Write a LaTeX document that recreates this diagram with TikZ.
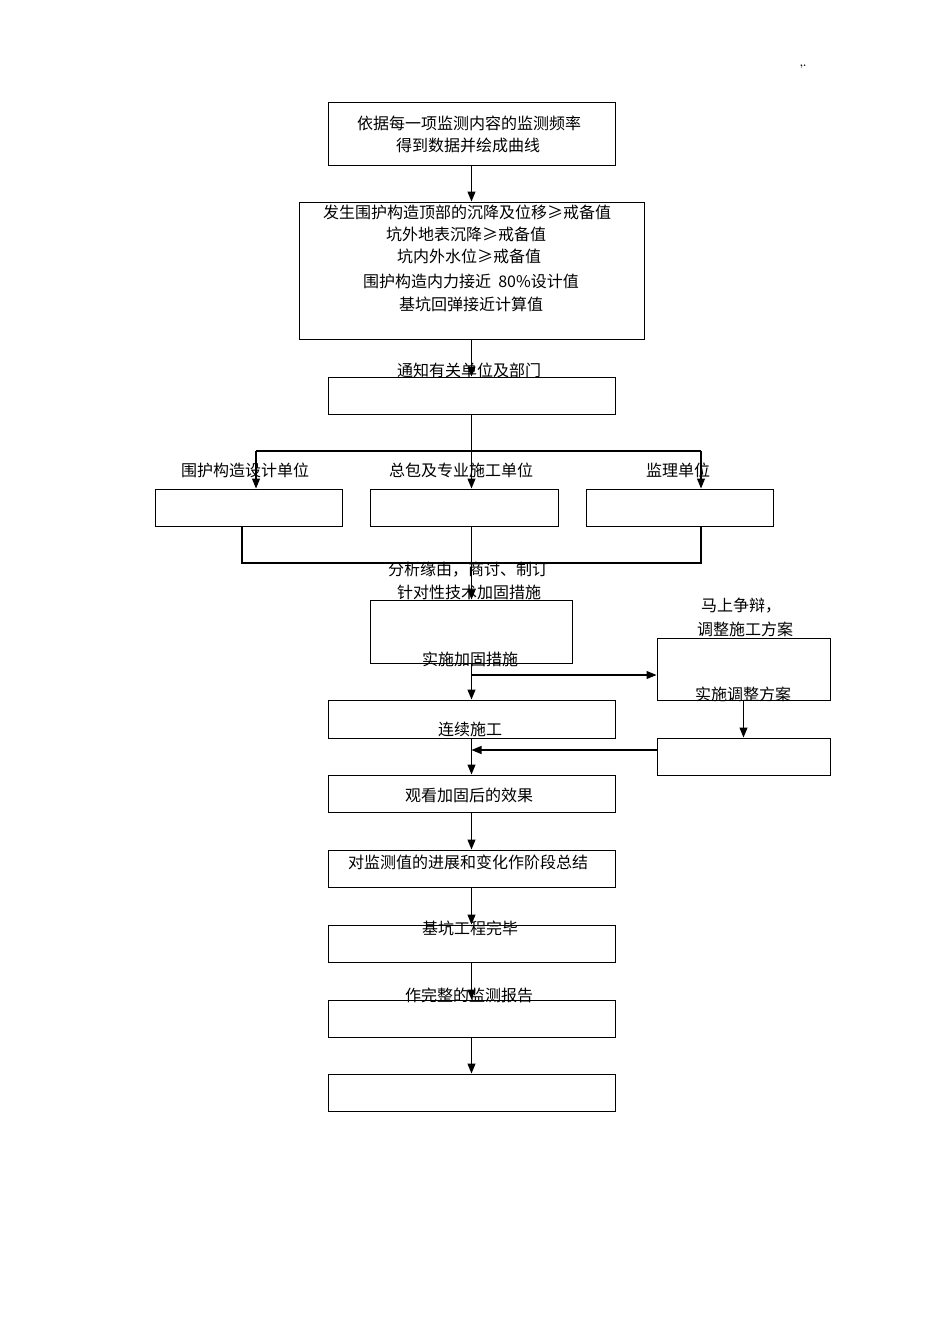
\documentclass[tikz,border=0pt]{standalone}
\usepackage{fontspec}
\newfontfamily\cjk{Noto Sans CJK SC}
\usetikzlibrary{arrows.meta}

\tikzset{
  box/.style={draw, line width=1pt, inner sep=0pt},
  lbl/.style={font=\cjk\fontsize{16}{19}\selectfont, inner sep=0pt},
  arr/.style={-{Triangle[length=10pt,width=8pt]}, line width=1.1pt},
  conn/.style={line width=1.1pt}
}

\begin{document}
\begin{tikzpicture}[x=1pt,y=-1pt]

\useasboundingbox (0,0) rectangle (950,1344);

% boxes
\node[box, minimum width=287pt, minimum height=63pt] (mon) at (471.5,133.5) {};
\node[box, minimum width=345pt, minimum height=137pt] (alarm) at (471.5,270.5) {};
\node[box, minimum width=287pt, minimum height=37pt] (notify) at (471.5,395.5) {};
\node[box, minimum width=187pt, minimum height=37pt] (design) at (248.5,507.5) {};
\node[box, minimum width=188pt, minimum height=37pt] (contr) at (464,507.5) {};
\node[box, minimum width=187pt, minimum height=37pt] (superv) at (679.5,507.5) {};
\node[box, minimum width=202pt, minimum height=63pt] (analyse) at (471,631.5) {};
\node[box, minimum width=173pt, minimum height=62pt] (adjust) at (743.5,669) {};
\node[box, minimum width=173pt, minimum height=37pt] (doadj) at (743.5,756.5) {};
\node[box, minimum width=287pt, minimum height=38pt] (cont) at (471.5,719) {};
\node[box, minimum width=287pt, minimum height=37pt] (effect) at (471.5,793.5) {};
\node[box, minimum width=287pt, minimum height=37pt] (summ) at (471.5,868.5) {};
\node[box, minimum width=287pt, minimum height=37pt] (finish) at (471.5,943.5) {};
\node[box, minimum width=287pt, minimum height=37pt] (report) at (471.5,1018.5) {};
\node[box, minimum width=287pt, minimum height=37pt] (last) at (471.5,1092.5) {};

% junctions
\coordinate (sl) at (256,451);
\coordinate (sr) at (701,451);
\coordinate (jl) at (242,563);
\coordinate (jr) at (701,563);
\coordinate (fork) at (471.5,675);
\coordinate (merge) at (471.5,750);

% connectors
\draw[arr] (mon) -- (alarm);
\draw[arr] (alarm) -- (notify);
\draw[arr] (notify.south) -- (notify.south |- contr.north);
\draw[conn] (sl) -- (sr);
\draw[arr] (sl) -- (sl |- design.north);
\draw[arr] (sr) -- (sr |- superv.north);
\draw[conn] (jl |- design.south) -- (jl) -- (jr) -- (jr |- superv.south);
\draw[arr] (notify.south |- contr.south) -- (notify.south |- analyse.north);
\draw[arr] (notify.south |- analyse.south) -- (cont.north);
\draw[arr] (fork) -- (fork -| adjust.west);
\draw[arr] (adjust) -- (doadj);
\draw[arr] (doadj.west |- merge) -- (merge);
\draw[arr] (cont) -- (effect);
\draw[arr] (effect) -- (summ);
\draw[arr] (summ) -- (finish);
\draw[arr] (finish) -- (report);
\draw[arr] (report) -- (last);

% texts
\node[lbl] (t1a) at (469,123) {依据每一项监测内容的监测频率};
\node[lbl] (t1b) at (468,145) {得到数据并绘成曲线};
\node[lbl] (t2a) at (467,212) {发生围护构造顶部的沉降及位移≥戒备值};
\node[lbl] (t2b) at (466,234) {坑外地表沉降≥戒备值};
\node[lbl] (t2c) at (469,256) {坑内外水位≥戒备值};
\node[lbl] (t2d) at (471,281) {围护构造内力接近\ \ 80\%设计值};
\node[lbl] (t2e) at (471,304) {基坑回弹接近计算值};
\node[lbl] (t3) at (469,370) {通知有关单位及部门};
\node[lbl] (t4a) at (245,470) {围护构造设计单位};
\node[lbl] (t4b) at (461,470) {总包及专业施工单位};
\node[lbl] (t4c) at (678,470) {监理单位};
\node[lbl] (t5a) at (468,570) {分析缘由，商讨、制订};
\node[lbl] (t5b) at (469,592) {针对性技术加固措施};
\node[lbl] (t6) at (470,659) {实施加固措施};
\node[lbl] (t7a) at (741,606) {马上争辩，};
\node[lbl] (t7b) at (745,629) {调整施工方案};
\node[lbl] (t8) at (743,694) {实施调整方案};
\node[lbl] (t9) at (470,729) {连续施工};
\node[lbl] (t10) at (469,795) {观看加固后的效果};
\node[lbl] (t11) at (468,862) {对监测值的进展和变化作阶段总结};
\node[lbl] (t12) at (470,928) {基坑工程完毕};
\node[lbl] (t13) at (469,995) {作完整的监测报告};
\node[font=\bfseries\fontsize{10}{11}\selectfont, inner sep=0pt] (mark) at (803,67) {,.};

\end{tikzpicture}
\end{document}
